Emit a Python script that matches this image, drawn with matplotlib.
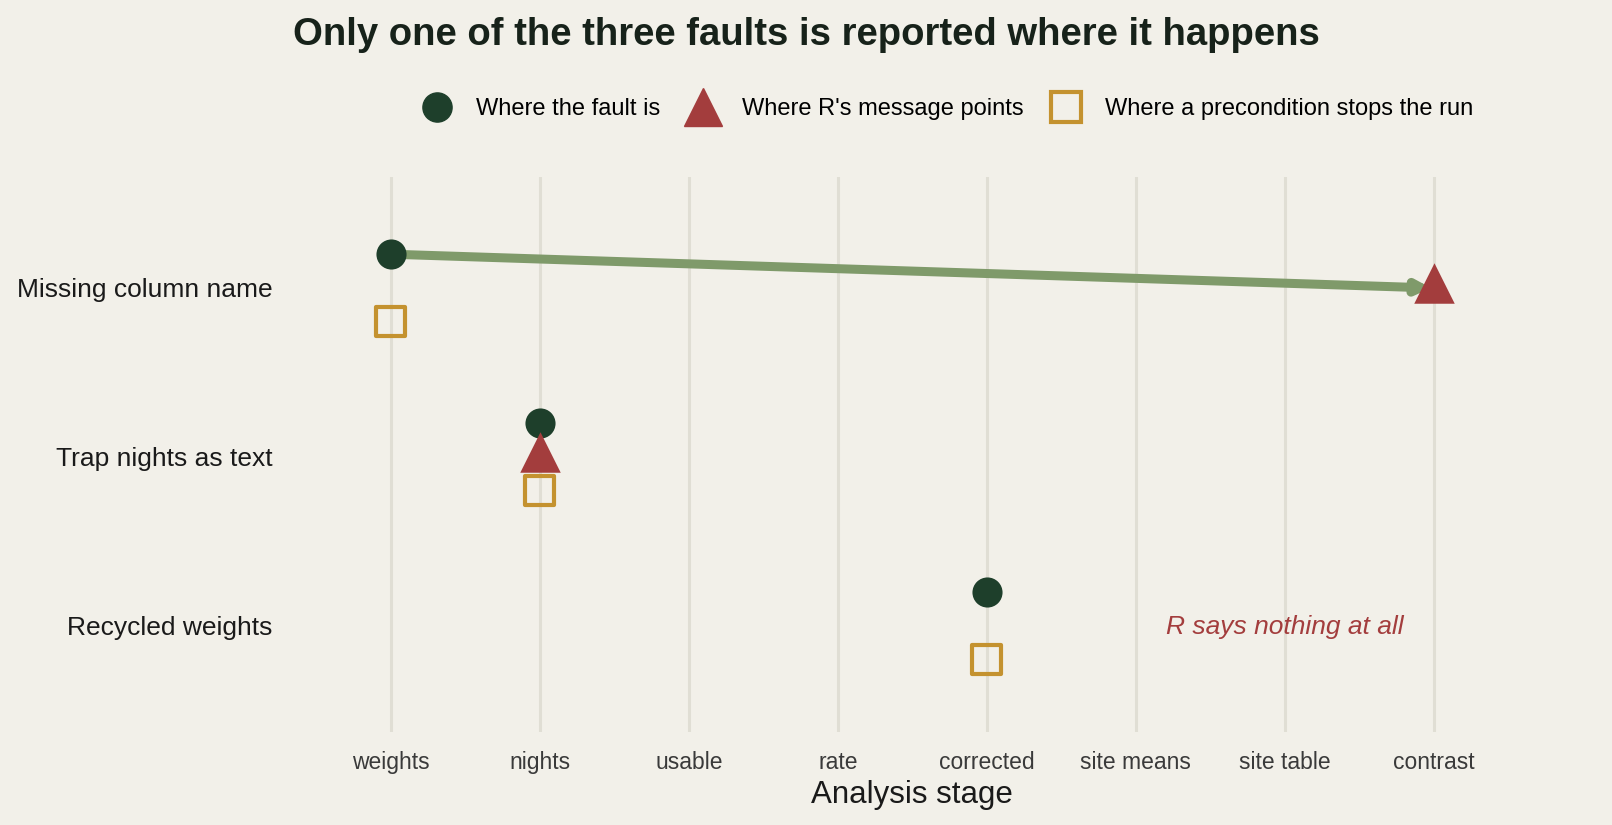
import matplotlib.pyplot as plt
from matplotlib.lines import Line2D

plt.rcParams['font.family'] = ['Liberation Sans', 'DejaVu Sans']

stages = ["weights", "nights", "usable", "rate", "corrected",
          "site means", "site table", "contrast"]
faults = ["Missing column name", "Trap nights as text", "Recycled weights"]
fault_at = ["weights", "nights", "corrected"]
message_at = ["contrast", "nights", None]
stop_at = ["weights", "nights", "corrected"]
silent_note = "R says nothing at all"

bg = "#F2F0E9"
c_fault = "#1E3F2B"
c_msg = "#A33D3D"
c_stop = "#C4922F"
c_arrow = "#7F9A6A"

xpos = {s: i + 1 for i, s in enumerate(stages)}
ypos = {f: len(faults) - i for i, f in enumerate(faults)}

fig = plt.figure(figsize=(16.12, 8.25), dpi=100, facecolor=bg)
ax = fig.add_axes([0.187, 0.113, 0.758, 0.673])
ax.set_facecolor(bg)

for x in xpos.values():
    ax.axvline(x, color="#E0DED4", lw=2.2, zorder=0)

for f, fa, ma, sa in zip(faults, fault_at, message_at, stop_at):
    y = ypos[f]
    if ma is not None and ma != fa:
        ax.annotate("", xy=(xpos[ma] - 0.02, y), xytext=(xpos[fa], y + 0.2),
                    arrowprops=dict(arrowstyle="-|>,head_length=0.7,head_width=0.35",
                                    color=c_arrow, lw=6.5, shrinkA=0, shrinkB=0),
                    zorder=1)
    ax.scatter(xpos[fa], y + 0.2, s=470, marker="o", color=c_fault, zorder=3, lw=0)
    if ma is not None:
        ax.scatter(xpos[ma], y + 0.03, s=850, marker="^", color=c_msg, zorder=4, lw=0)
    else:
        ax.text(xpos["site table"], y - 0.01, silent_note, color=c_msg, style="italic",
                fontsize=19, ha="center", va="center")
    ax.scatter(xpos[sa], y - 0.2, s=440, marker="s", facecolor="none",
               edgecolor=c_stop, lw=3, zorder=2)

ax.set_xlim(0.4, 8.6)
ax.set_ylim(0.37, 3.66)
ax.set_xticks(list(xpos.values()))
ax.set_xticklabels(stages, fontsize=16.5, color="#3A3A3A")
ax.set_yticks([ypos[f] for f in faults])
ax.set_yticklabels(faults, fontsize=19, color="#1A1A1A")
ax.tick_params(length=0)
ax.tick_params(axis="x", pad=14)
ax.tick_params(axis="y", pad=21)
ax.set_xlabel("Analysis stage", fontsize=22.5, color="#1A1A1A", labelpad=4)
for sp in ax.spines.values():
    sp.set_visible(False)

fig.suptitle("Only one of the three faults is reported where it happens",
             fontsize=27.5, fontweight="bold", color="#17221A",
             y=0.958, x=0.5, va="center")

handles = [
    Line2D([], [], marker="o", ls="", color=c_fault, markersize=21),
    Line2D([], [], marker="^", ls="", color=c_msg, markersize=27),
    Line2D([], [], marker="s", ls="", markerfacecolor="none",
           markeredgecolor=c_stop, markeredgewidth=3, markersize=21),
]
labels = ["Where the fault is", "Where R's message points",
          "Where a precondition stops the run"]
fig.legend(handles, labels, loc="center", bbox_to_anchor=(0.587, 0.868),
           ncol=3, frameon=False, fontsize=17, handletextpad=0.9,
           columnspacing=1.05, handlelength=1.5)

fig.savefig("out.png", dpi=100, facecolor=bg)
